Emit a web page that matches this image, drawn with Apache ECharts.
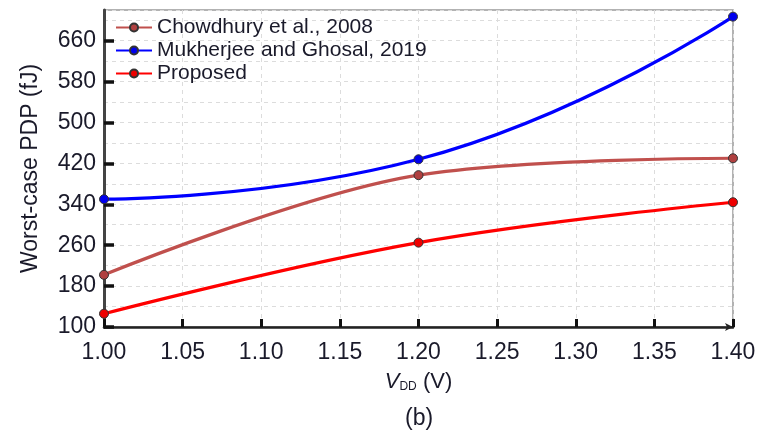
<!DOCTYPE html>
<html>
<head>
<meta charset="utf-8">
<script src="https://cdn.jsdelivr.net/npm/echarts@6/dist/echarts.min.js"></script>
<style>
  html, body { margin: 0; padding: 0; background: #fff; }
  #main { width: 759px; height: 435px; }
</style>
</head>
<body>
<div id="main"></div>
<script>
// data
var vdd = [1.00, 1.20, 1.40];
var chowdhury = [202, 397, 430];
var mukherjee = [350, 428, 707];
var proposed = [126, 265, 344];
var seriesNames = ['Chowdhury et al., 2008', 'Mukherjee and Ghosal, 2019', 'Proposed'];

function pairs(xs, ys) {
    var out = [];
    for (var i = 0; i < xs.length; i++) {
        out.push([xs[i], ys[i]]);
    }
    return out;
}

var myChart = echarts.init(document.getElementById('main'));
var font = 'Liberation Sans, Arial, sans-serif';
var textColor = '#1a1a2a';
var gridLine = { show: true, lineStyle: { color: '#dcdcdc', type: [4, 4], width: 1 } };

function makeSeries(name, data, lineColor, dotColor, smooth) {
    return {
        name: name,
        type: 'line',
        smooth: smooth,
        symbol: 'circle',
        symbolSize: 9,
        lineStyle: { color: lineColor, width: 3.2 },
        itemStyle: { color: dotColor, borderColor: '#333', borderWidth: 1 },
        data: pairs(vdd, data)
    };
}

var option = {
    animation: false,
    title: {
        text: '(b)',
        left: 400,
        bottom: 0,
        textStyle: { fontFamily: font, fontSize: 23, fontWeight: 'normal', color: textColor }
    },
    legend: {
        left: 110,
        top: 12,
        orient: 'vertical',
        itemWidth: 36,
        itemHeight: 10,
        itemGap: 2,
        textStyle: { fontFamily: font, fontSize: 21, color: textColor },
        data: seriesNames
    },
    grid: {
        left: 104,
        right: 26,
        top: 10,
        bottom: 108,
        show: true,
        borderColor: '#999',
        borderWidth: 1.5
    },
    xAxis: {
        type: 'value',
        min: 1.0,
        max: 1.4,
        interval: 0.05,
        name: '{v|V}{s|DD} (V)',
        nameLocation: 'middle',
        nameGap: 44,
        nameTextStyle: {
            fontFamily: font, fontSize: 22, color: textColor,
            rich: {
                v: { fontFamily: font, fontSize: 22, fontStyle: 'italic', color: textColor },
                s: { fontFamily: font, fontSize: 12, color: textColor, padding: [10, 0, 0, 0] }
            }
        },
        axisLine: { lineStyle: { color: '#222', width: 2.5 }, symbol: ['none', 'arrow'], symbolSize: [6, 8] },
        axisTick: { inside: true, length: 8, lineStyle: { width: 3, color: '#111' } },
        axisLabel: {
            margin: 14,
            fontFamily: font, fontSize: 23, color: textColor,
            formatter: function (v) { return v.toFixed(2); }
        },
        splitLine: gridLine
    },
    yAxis: {
        type: 'value',
        min: 100,
        max: 720,
        interval: 80,
        name: 'Worst-case PDP (fJ)',
        nameLocation: 'middle',
        nameGap: 62,
        nameTextStyle: { fontFamily: font, fontSize: 23, color: textColor },
        axisLine: { show: true, lineStyle: { color: '#444', width: 3 } },
        axisTick: { inside: true, length: 10, lineStyle: { width: 3.5, color: '#111' } },
        axisLabel: {
            margin: 8,
            showMaxLabel: false,
            fontFamily: font, fontSize: 23, color: textColor
        },
        splitLine: gridLine,
        minorTick: { show: false, splitNumber: 2 },
        minorSplitLine: gridLine
    },
    series: [
        makeSeries(seriesNames[0], chowdhury, '#c0504d', '#b04040', 0.35),
        makeSeries(seriesNames[1], mukherjee, '#0000ff', '#0000ee', 0.5),
        makeSeries(seriesNames[2], proposed, '#ff0000', '#ee0000', 0.4)
    ]
};

myChart.setOption(option);
</script>
</body>
</html>
